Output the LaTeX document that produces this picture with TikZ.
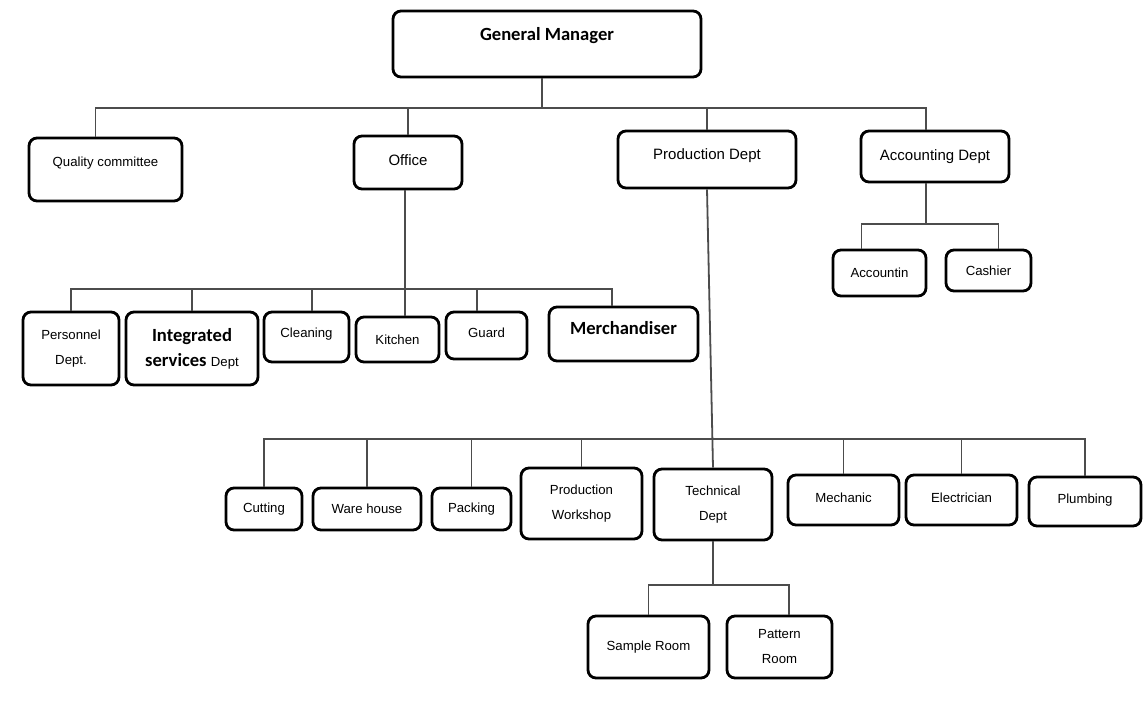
\documentclass[tikz,border=0pt]{standalone}
\usepackage{fontspec}
\setmainfont{Liberation Sans}
\newfontfamily\headfont{Carlito}

\tikzset{
  unit/.style={draw,line width=1.4pt,rounded corners=4pt,align=center,inner sep=1pt,
    font=\fontsize{6.6}{12.5}\selectfont},
  dept/.style={unit,font=\fontsize{7.5}{10}\selectfont},
  head/.style={unit,font=\headfont\bfseries\fontsize{9.3}{12.5}\selectfont},
  wh/.style 2 args={minimum width=#1*0.5pt,minimum height=#2*0.5pt},
  lift/.style={text depth=#1},
  link/.style={line width=0.9pt,black!70}
}

\begin{document}
\begin{tikzpicture}[x=0.5pt,y=-0.5pt]
  \fill[white] (0,0) rectangle (1144,708);
  % top level
  \node[head,wh={308}{66},lift=10pt] (gm) at (547,44) {General Manager};
  \node[unit,wh={153}{63},lift=8pt] (qc) at (105.5,169.5) {Quality committee};
  \node[dept,wh={108}{53},lift=2.5pt] (office) at (408,162.5) {Office};
  \node[dept,wh={178}{57},lift=5pt] (prod) at (707,159.5) {Production Dept};
  \node[dept,wh={148}{51}] (acc) at (935,156.5) {Accounting Dept};
  % accounting
  \node[unit,wh={93}{46}] (acn) at (879.5,273) {Accountin};
  \node[unit,wh={85}{41}] (cash) at (988.5,270.5) {Cashier};
  % office
  \node[unit,wh={96}{73}] (pers) at (71,348.5) {Personnel\\Dept.};
  \node[head,wh={132}{73}] (integ) at (192,348.5)
    {Integrated\\services {\normalfont\fontsize{6.6}{12.5}\selectfont Dept}};
  \node[unit,wh={85}{50},lift=4.5pt] (clean) at (306.5,337) {Cleaning};
  \node[unit,wh={83}{45}] (kitchen) at (397.5,339.5) {Kitchen};
  \node[unit,wh={81}{47},lift=3pt] (guard) at (486.5,335.5) {Guard};
  \node[head,wh={149}{54},lift=6pt] (merch) at (623.5,334) {Merchandiser};
  % production
  \node[unit,wh={76}{42}] (cut) at (264,509) {Cutting};
  \node[unit,wh={108}{42}] (ware) at (367,509) {Ware house};
  \node[unit,wh={79}{42}] (pack) at (471.5,509) {Packing};
  \node[unit,wh={121}{71}] (pw) at (581.5,503.5) {Production\\Workshop};
  \node[unit,wh={118}{71}] (tech) at (713,504.5) {Technical\\Dept};
  \node[unit,wh={111}{50},lift=2.5pt] (mech) at (843.5,500) {Mechanic};
  \node[unit,wh={111}{50},lift=2.5pt] (elec) at (961.5,500) {Electrician};
  \node[unit,wh={112}{49},lift=2.5pt] (plumb) at (1085,501.5) {Plumbing};
  % technical
  \node[unit,wh={121}{62}] (sample) at (648.5,647) {Sample Room};
  \node[unit,wh={105}{62}] (pattern) at (779.5,647) {Pattern\\Room};

  \coordinate (topbar) at (0,108);
  \coordinate (accbar) at (0,224);
  \coordinate (offbar) at (0,289);
  \coordinate (prodbar) at (0,439);
  \coordinate (techbar) at (0,585);

  \draw[link] ([xshift=-2.5pt]gm.south) -- ([xshift=-2.5pt]gm.south |- topbar);
  \draw[link] ([xshift=-5pt]qc.north) -- ([xshift=-5pt]qc.north |- topbar)
    -- ([xshift=-4.5pt]acc.north |- topbar) -- ([xshift=-4.5pt]acc.north);
  \draw[link] (office.north) -- (office.north |- topbar);
  \draw[link] (prod.north) -- (prod.north |- topbar);

  \draw[link] ([xshift=-4.5pt]acc.south) -- ([xshift=-4.5pt]acc.south |- accbar);
  \draw[link] ([xshift=-9pt]acn.north) -- ([xshift=-9pt]acn.north |- accbar)
    -- ([xshift=5pt]cash.north |- accbar) -- ([xshift=5pt]cash.north);

  \draw[link] ([xshift=-1.5pt]office.south) -- ([xshift=-1.5pt]kitchen.north -| office.south);
  \draw[link] (pers.north) -- (pers.north |- offbar)
    -- ([xshift=-5.75pt]merch.north |- offbar) -- ([xshift=-5.75pt]merch.north);
  \foreach \n/\dx in {integ/0,clean/2.75,guard/-4.75}
    \draw[link] ([xshift=\dx pt]\n.north) -- ([xshift=\dx pt]\n.north |- offbar);

  \draw[link] (prod.south) -- (tech.north);
  \draw[link] (cut.north) -- (cut.north |- prodbar) -- (plumb.north |- prodbar) -- (plumb.north);
  \foreach \n in {ware,pack,pw,mech,elec}
    \draw[link] (\n.north) -- (\n.north |- prodbar);

  \draw[link] (tech.south) -- (tech.south |- techbar);
  \draw[link] (sample.north) -- (sample.north |- techbar)
    -- ([xshift=4.75pt]pattern.north |- techbar) -- ([xshift=4.75pt]pattern.north);
\end{tikzpicture}
\end{document}
